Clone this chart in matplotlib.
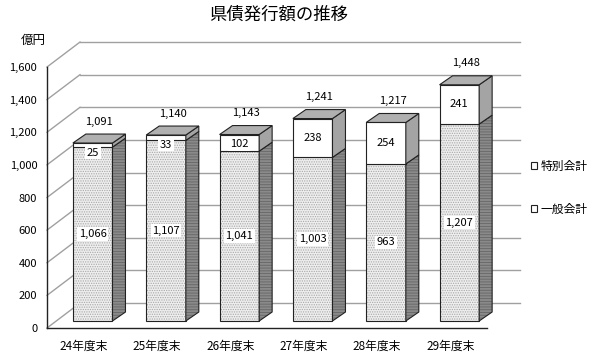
import matplotlib.pyplot as plt
from matplotlib.patches import Polygon, Rectangle, Patch

plt.rcParams['font.family'] = ['Noto Sans CJK JP', 'DejaVu Sans']
plt.rcParams['hatch.linewidth'] = 0.6

# =======================
# Daten
# =======================
years = ['24年度末', '25年度末', '26年度末', '27年度末', '28年度末', '29年度末']
ippan = [1066, 1107, 1041, 1003, 963, 1207]      # 一般会計
tokubetsu = [25, 33, 102, 238, 254, 241]         # 特別会計
totals = [1091, 1140, 1143, 1241, 1217, 1448]
yticks = [0, 200, 400, 600, 800, 1000, 1200, 1400, 1600]
ytick_labels = ['0', '200', '400', '600', '800', '1,000', '1,200', '1,400', '1,600']

# =======================
# Pseudo-3D Geometrie (Daten-Einheiten)
# =======================
wall_dx, wall_dy = 0.45, 153     # Tiefe der Rueckwand
bar_x0, bar_y0 = 0.123, 43       # Vorderseite der Saeulen
bar_dx, bar_dy = 0.177, 55       # Tiefe der Saeulen
bw = 0.54

grid_c = '#a0a0a0'
front_low = '#eeeeee'
dots_low = '#a8a8a8'
side_low = '#8a8a8a'
side_up = '#a4a4a4'
top_c = '#b0b0b0'

fig = plt.figure(figsize=(6, 3.56), dpi=100)
ax = fig.add_axes([47 / 600, 28 / 356, 440 / 600, 261 / 356])
ax.set_xlim(0, 6)
ax.set_ylim(0, 1600)

# Rueckwand + linke Wand
for v in yticks:
    ax.plot([wall_dx, 6 + wall_dx], [v + wall_dy, v + wall_dy], color=grid_c, lw=1, clip_on=False, zorder=1)
    ax.plot([0, wall_dx], [v, v + wall_dy], color=grid_c, lw=1, clip_on=False, zorder=1)


def block(xl, y0, y1, front, side, hatch_front=None, hatch_side=None, top=False):
    ax.add_patch(Rectangle((xl, y0), bw, y1 - y0, facecolor=front, edgecolor='none', clip_on=False, zorder=3))
    if hatch_front:
        ax.add_patch(Rectangle((xl, y0), bw, y1 - y0, fill=False, edgecolor=dots_low, lw=0,
                               hatch=hatch_front, clip_on=False, zorder=3))
    ax.add_patch(Rectangle((xl, y0), bw, y1 - y0, fill=False, edgecolor='#222222', lw=0.8, clip_on=False, zorder=3))
    xr = xl + bw
    side_pts = [(xr, y0), (xr + bar_dx, y0 + bar_dy), (xr + bar_dx, y1 + bar_dy), (xr, y1)]
    ax.add_patch(Polygon(side_pts, facecolor=side, edgecolor='none', clip_on=False, zorder=3))
    if hatch_side:
        ax.add_patch(Polygon(side_pts, fill=False, edgecolor='#666666', lw=0, hatch=hatch_side,
                             clip_on=False, zorder=3))
    ax.add_patch(Polygon(side_pts, fill=False, edgecolor='#222222', lw=0.8, clip_on=False, zorder=3))
    if top:
        top_pts = [(xl, y1), (xl + bar_dx, y1 + bar_dy), (xr + bar_dx, y1 + bar_dy), (xr, y1)]
        ax.add_patch(Polygon(top_pts, facecolor=top_c, edgecolor='#222222', lw=0.8, clip_on=False, zorder=3))


box = dict(boxstyle='square,pad=0.15', facecolor='white', edgecolor='none')

for i in range(len(years)):
    xl = i + 0.5 - bw / 2 + bar_x0
    g = bar_y0 + ippan[i]
    t = bar_y0 + totals[i]
    block(xl, bar_y0, g, front_low, side_low, hatch_front='.......', hatch_side='------')
    block(xl, g, t, 'white', side_up, top=True)

    xc = xl + bw / 2
    ax.text(xc, bar_y0 + ippan[i] / 2, f'{ippan[i]:,}', ha='center', va='center',
            fontsize=8, bbox=box, zorder=5)
    ly = min(g + tokubetsu[i] / 2, t - 60)
    ax.text(xc, ly, f'{tokubetsu[i]:,}', ha='center', va='center', fontsize=8, bbox=box, zorder=5)
    ax.annotate(f'{totals[i]:,}', (xc + bar_dx * 0.5, t + bar_dy), xytext=(0, 9),
                textcoords='offset points', ha='center', va='center', fontsize=8, zorder=5,
                annotation_clip=False)

# Achsen
for s in ['top', 'right']:
    ax.spines[s].set_visible(False)
for s in ['left', 'bottom']:
    ax.spines[s].set_color('#222222')
    ax.spines[s].set_linewidth(1)
    ax.spines[s].set_zorder(4)
ax.set_yticks(yticks)
ax.set_yticklabels(ytick_labels, fontsize=8)
ax.set_xticks([i + 0.5 for i in range(len(years))])
ax.set_xticklabels(years, fontsize=8.5)
ax.tick_params(axis='y', length=0, pad=7)
ax.tick_params(axis='x', length=0, pad=8.5)
ax.patch.set_visible(False)

fig.text(279 / 600, 1 - 15 / 356, '県債発行額の推移', ha='center', va='center', fontsize=12.5)
fig.text(33 / 600, 1 - 40 / 356, '億円', ha='center', va='center', fontsize=9)

handles = [Patch(facecolor='white', edgecolor='#222222', lw=0.8, label='特別会計'),
           Patch(facecolor='white', edgecolor='#222222', lw=0.8, label='一般会計')]
fig.legend(handles=handles, loc='upper left', bbox_to_anchor=(531 / 600, 1 - 160 / 356),
           frameon=False, fontsize=8.5, handlelength=0.55, handleheight=0.55,
           handletextpad=0.25, labelspacing=2.5, borderpad=0, borderaxespad=0)

fig.savefig('out.png', dpi=100)
